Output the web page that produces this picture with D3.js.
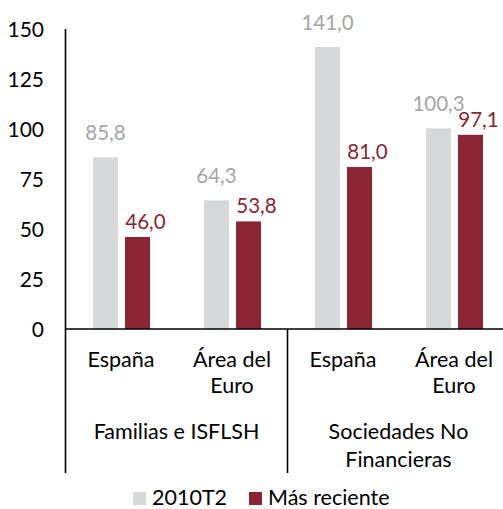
<html>
  <head>
    <meta charset="utf-8">
    <script src="https://cdn.jsdelivr.net/npm/d3@7"></script>
    <style>
      body { margin: 0; background: #fff; }
      text { font-family: Lato, "Open Sans", sans-serif; }
    </style>
  </head>
  <body>
    <svg id="chart" width="503" height="509"></svg>
    <script>
      // categories: [label lines, group]
      var categories = ["esp1", "eur1", "esp2", "eur2"];
      var categoryLabels = [["España"], ["Área del", "Euro"], ["España"], ["Área del", "Euro"]];
      var groups = [["Familias e ISFLSH"], ["Sociedades No", "Financieras"]];
      var series = ["2010T2", "Más reciente"];
      var values2010 = [85.8, 64.3, 141.0, 100.3];
      var valuesRecent = [46.0, 53.8, 81.0, 97.1];
      var yTicks = [0, 25, 50, 75, 100, 125, 150];
      var colors = ["#d7d8da", "#8b2533"];
      var labelColors = ["#a5a5a5", "#8b2533"];

      var svg = d3.select("#chart");
      var fmt = function(v) { return d3.format(".1f")(v).replace(".", ","); };

      var x0 = d3.scaleBand().domain(categories).range([65.5, 509.5]);
      var x1 = d3.scaleBand().domain(series).range([27.5, 84.5]).paddingInner(0.22);
      var y = d3.scaleLinear().domain([0, 150]).range([329, 29]);

      var data = categories.map(function(c, i) {
        return { cat: c, vals: [values2010[i], valuesRecent[i]] };
      });

      // y tick labels (no axis ticks drawn)
      svg.append("g").selectAll("text")
        .data(yTicks)
        .enter().append("text")
          .attr("x", 44)
          .attr("y", function(d) { return y(d); })
          .attr("dy", "0.36em")
          .attr("text-anchor", "end")
          .attr("font-size", 21)
          .attr("fill", "#000")
          .text(function(d) { return d; });

      // bars
      var g = svg.append("g").selectAll("g")
        .data(data)
        .enter().append("g")
          .attr("transform", function(d) { return "translate(" + x0(d.cat) + ",0)"; });

      g.selectAll("rect")
        .data(function(d) { return d.vals.map(function(v, i) { return { s: series[i], v: v, i: i }; }); })
        .enter().append("rect")
          .attr("x", function(d) { return x1(d.s); })
          .attr("width", x1.bandwidth())
          .attr("y", function(d) { return y(d.v); })
          .attr("height", function(d) { return y(0) - y(d.v); })
          .attr("fill", function(d) { return colors[d.i]; });

      g.selectAll("text")
        .data(function(d) { return d.vals.map(function(v, i) { return { s: series[i], v: v, i: i }; }); })
        .enter().append("text")
          .attr("x", function(d) { return x1(d.s) + x1.bandwidth() / 2 + (d.i ? 8 : 0); })
          .attr("y", function(d) { return y(d.v) - (d.i ? 8 : 17); })
          .attr("text-anchor", "middle")
          .attr("font-size", 20.5)
          .attr("fill", function(d) { return labelColors[d.i]; })
          .text(function(d) { return fmt(d.v); });

      // axis lines
      svg.append("line")
        .attr("x1", 65.5).attr("x2", 65.5).attr("y1", 29).attr("y2", 473)
        .attr("stroke", "#000").attr("stroke-width", 1.6);
      svg.append("line")
        .attr("x1", 65.5).attr("x2", 503).attr("y1", y(0)).attr("y2", y(0))
        .attr("stroke", "#000").attr("stroke-width", 1.6);
      svg.append("line")
        .attr("x1", x0("esp2")).attr("x2", x0("esp2")).attr("y1", y(0)).attr("y2", 473)
        .attr("stroke", "#000").attr("stroke-width", 1.6);

      // category labels
      svg.append("g").selectAll("text")
        .data(categories)
        .enter().append("text")
          .attr("x", function(d) { return x0(d) + x0.bandwidth() / 2; })
          .attr("y", 367)
          .attr("text-anchor", "middle")
          .attr("font-size", 21.5)
          .attr("fill", "#000")
          .each(function(d, i) {
            var t = d3.select(this);
            categoryLabels[i].forEach(function(line, j) {
              t.append("tspan").attr("x", x0(d) + x0.bandwidth() / 2).attr("dy", j ? 26 : 0).text(line);
            });
          });

      // group labels
      var groupCenters = [(x0("esp1") + x0("eur1") + x0.bandwidth()) / 2, (x0("esp2") + x0("eur2") + x0.bandwidth()) / 2];
      svg.append("g").selectAll("text")
        .data(groups)
        .enter().append("text")
          .attr("y", 439)
          .attr("text-anchor", "middle")
          .attr("font-size", 21.5)
          .attr("fill", "#000")
          .each(function(d, i) {
            var t = d3.select(this);
            d.forEach(function(line, j) {
              t.append("tspan").attr("x", groupCenters[i]).attr("dy", j ? 28 : 0).text(line);
            });
          });

      // legend
      var legendX = [133, 249];
      var lg = svg.append("g").selectAll("g")
        .data(series)
        .enter().append("g")
          .attr("transform", function(d, i) { return "translate(" + legendX[i] + ",492)"; });
      lg.append("rect").attr("width", 13).attr("height", 13)
        .attr("fill", function(d, i) { return colors[i]; });
      lg.append("text").attr("x", 19).attr("y", 13)
        .attr("font-size", 21.5).attr("fill", "#000")
        .text(function(d) { return d; });
    </script>
  </body>
</html>
